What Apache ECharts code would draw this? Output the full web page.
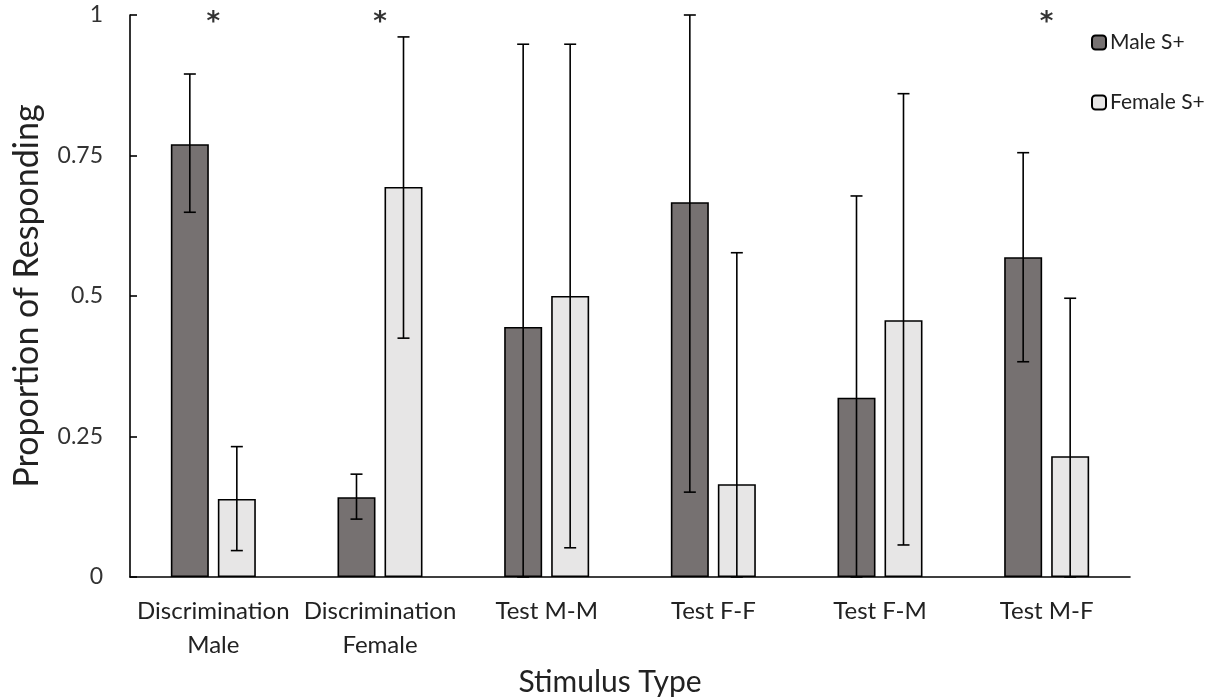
<!DOCTYPE html>
<html>
<head>
<meta charset="utf-8">
<script src="https://cdn.jsdelivr.net/npm/echarts@6/dist/echarts.min.js"></script>
<style>html,body{margin:0;padding:0;background:#fff;}#c{width:1214px;height:700px;}</style>
</head>
<body>
<div id="c"></div>
<script>
var categories = ['Discrimination\nMale', 'Discrimination\nFemale', 'Test M-M', 'Test F-F', 'Test F-M', 'Test M-F'];
var maleValues = [0.770, 0.142, 0.445, 0.667, 0.319, 0.569];
var maleLow    = [0.649, 0.103, 0.000, 0.151, 0.000, 0.383];
var maleHigh   = [0.895, 0.183, 0.948, 1.000, 0.678, 0.755];
var femaleValues = [0.139, 0.694, 0.500, 0.165, 0.457, 0.215];
var femaleLow    = [0.047, 0.425, 0.052, 0.000, 0.057, 0.000];
var femaleHigh   = [0.232, 0.961, 0.948, 0.577, 0.860, 0.496];
var sigIndex = [0, 1, 5];
var sigY = [1, 1, 1];
var yTicks = [0, 0.25, 0.5, 0.75, 1];

var BAR_W = 38, GAP = 9;
function errData(low, high) { return low.map(function (l, i) { return [i, l, high[i]]; }); }
function errRender(sign) {
  return function (params, api) {
    var i = api.value(0);
    var lo = api.coord([i, api.value(1)]);
    var hi = api.coord([i, api.value(2)]);
    var x = lo[0] + sign * (BAR_W + GAP) / 2;
    var cw = 6;
    var st = { stroke: '#000', lineWidth: 1.6 };
    return { type: 'group', children: [
      { type: 'line', shape: { x1: x, y1: lo[1], x2: x, y2: hi[1] }, style: st },
      { type: 'line', shape: { x1: x - cw, y1: hi[1], x2: x + cw, y2: hi[1] }, style: st },
      { type: 'line', shape: { x1: x - cw, y1: lo[1], x2: x + cw, y2: lo[1] }, style: st }
    ]};
  };
}
var font = 'Lato, "Open Sans", sans-serif';
var chart = echarts.init(document.getElementById('c'));
chart.setOption({
  animation: false,
  backgroundColor: '#fff',
  grid: { left: 130, right: 84, top: 15, bottom: 123, containLabel: false, outerBoundsMode: 'none' },
  legend: {
    orient: 'vertical', left: 1086, top: 27, itemWidth: 14, itemHeight: 14, itemGap: 39,
    textStyle: { fontFamily: font, fontSize: 21, color: '#222', padding: [0, 0, 0, -1] },
    data: [{ name: 'Male S+' }, { name: 'Female S+' }]
  },
  xAxis: {
    type: 'category', data: categories,
    axisLine: { lineStyle: { color: '#000', width: 1.6 } },
    axisTick: { show: false },
    axisLabel: { fontFamily: font, fontSize: 24, color: '#222', lineHeight: 34, margin: 17, interval: 0 },
    name: 'Stimulus Type', nameLocation: 'middle', nameGap: 86,
    nameTextStyle: { fontFamily: font, fontSize: 30, color: '#222', padding: [0, 40, 0, 0] }
  },
  yAxis: {
    type: 'value', min: 0, max: 1, interval: 0.25,
    axisLine: { show: true, lineStyle: { color: '#000', width: 1.6 } },
    axisTick: { show: true, inside: true, length: 7, lineStyle: { color: '#000', width: 1.6 } },
    splitLine: { show: false },
    axisLabel: { fontFamily: font, fontSize: 23, color: '#333', margin: 27 },
    name: 'Proportion of Responding', nameLocation: 'middle', nameGap: 86,
    nameTextStyle: { fontFamily: font, fontSize: 34, color: '#222' }
  },
  series: [
    { name: 'Male S+', type: 'bar', data: maleValues, barWidth: BAR_W, barGap: (GAP / BAR_W * 100) + '%',
      itemStyle: { color: '#767171', borderColor: '#000', borderWidth: 1.6 } },
    { name: 'Female S+', type: 'bar', data: femaleValues, barWidth: BAR_W,
      itemStyle: { color: '#E7E6E6', borderColor: '#000', borderWidth: 1.6 } },
    { type: 'custom', renderItem: errRender(-1), data: errData(maleLow, maleHigh), z: 10, silent: true },
    { type: 'custom', renderItem: errRender(1), data: errData(femaleLow, femaleHigh), z: 10, silent: true },
    { type: 'scatter', symbolSize: 0, silent: true, z: 11,
      data: sigIndex.map(function (c, k) { return [c, sigY[k]]; }),
      label: { show: true, position: 'inside', formatter: '*', fontFamily: 'DejaVu Sans, sans-serif', fontWeight: 'bold', fontSize: 26, color: '#000', offset: [0, 8] } }
  ]
});
</script>
</body>
</html>
